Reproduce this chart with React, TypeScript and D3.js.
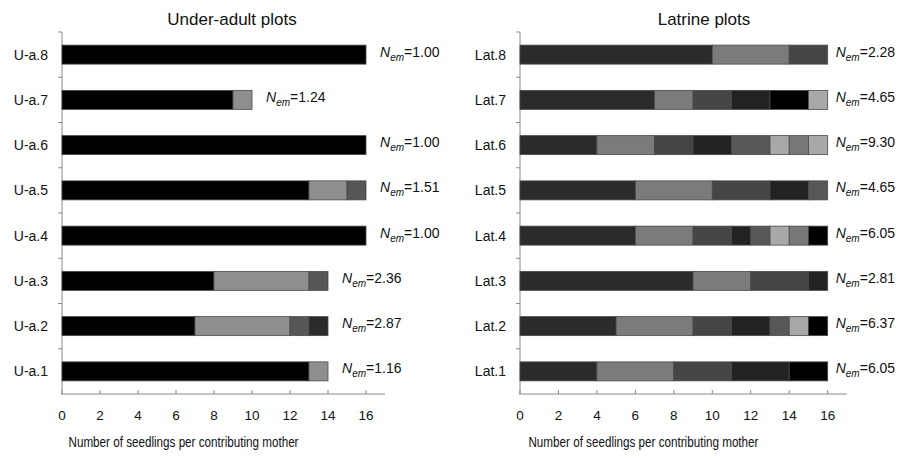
import React from 'react';
import * as d3 from 'd3';

// seedlings per mother, stacked left to right; shade = mother id for the grey level
const underAdultPlots = ['U-a.1', 'U-a.2', 'U-a.3', 'U-a.4', 'U-a.5', 'U-a.6', 'U-a.7', 'U-a.8'];
const underAdultCounts = [[13, 1], [7, 5, 1, 1], [8, 5, 1], [16], [13, 2, 1], [16], [9, 1], [16]];
const underAdultShades = [[0, 1], [0, 1, 2, 3], [0, 1, 2], [0], [0, 1, 2], [0], [0, 1], [0]];
const underAdultNem = ['1.16', '2.87', '2.36', '1.00', '1.51', '1.00', '1.24', '1.00'];

const latrinePlots = ['Lat.1', 'Lat.2', 'Lat.3', 'Lat.4', 'Lat.5', 'Lat.6', 'Lat.7', 'Lat.8'];
const latrineCounts = [
  [4, 4, 3, 3, 2],
  [5, 4, 2, 2, 1, 1, 1],
  [9, 3, 3, 1],
  [6, 3, 2, 1, 1, 1, 1, 1],
  [6, 4, 3, 2, 1],
  [4, 3, 2, 2, 2, 1, 1, 1],
  [7, 2, 2, 2, 2, 1],
  [10, 4, 2],
];
const latrineShades = [
  [0, 1, 2, 3, 7],
  [0, 1, 2, 3, 4, 5, 7],
  [0, 1, 2, 3],
  [0, 1, 2, 3, 4, 5, 6, 7],
  [0, 1, 2, 3, 4],
  [0, 1, 2, 3, 4, 5, 6, 5],
  [0, 1, 2, 3, 7, 5],
  [0, 1, 2],
];
const latrineNem = ['6.05', '6.37', '2.81', '6.05', '4.65', '9.30', '4.65', '2.28'];

const xTicks = [0, 2, 4, 6, 8, 10, 12, 14, 16];

const underAdultPalette = ['#000000', '#8e8e8e', '#565656', '#2a2a2a'];
const latrinePalette = ['#2b2b2b', '#7b7b7b', '#454545', '#222222', '#575757', '#a8a8a8', '#777777', '#000000'];

const FONT = '"Liberation Sans", Arial, Helvetica, sans-serif';

type PanelProps = {
  title: string;
  titleX: number;
  left: number;
  unit: number;
  plots: string[];
  counts: number[][];
  shades: number[][];
  nem: string[];
  palette: string[];
  labelGap: number;
};

function Panel({ title, titleX, left, unit, plots, counts, shades, nem, palette, labelGap }: PanelProps) {
  const x = d3.scaleLinear().domain([0, 17]).range([left, left + 17 * unit]);
  const y = d3.scaleBand<string>().domain([...plots].reverse()).range([32, 394]).paddingInner(0.58).paddingOuter(0.29);
  const band = y.step();
  const axisColor = '#8a8a8a';

  return (
    <g fontFamily={FONT}>
      <text x={titleX} y={25} textAnchor="middle" fontSize={17} fill="#111">{title}</text>

      {/* y axis */}
      <line x1={left} x2={left} y1={32} y2={394} stroke={axisColor} strokeWidth={1} />
      {d3.range(plots.length).map(i => (
        <line key={'yt' + i} x1={left - 4} x2={left} y1={32 + i * band} y2={32 + i * band} stroke={axisColor} />
      ))}

      {/* x axis */}
      <line x1={x(0) - 1} x2={x(17)} y1={394} y2={394} stroke={axisColor} strokeWidth={1} />
      {xTicks.map(t => (
        <g key={'xt' + t}>
          <line x1={x(t)} x2={x(t)} y1={390} y2={394} stroke={axisColor} />
          <text x={x(t)} y={420} textAnchor="middle" fontSize={13.5} fill="#111">{t}</text>
        </g>
      ))}
      <text x={x(8.5) - 40} y={447} textAnchor="middle" fontSize={14} fill="#111"
        textLength={230} lengthAdjust="spacingAndGlyphs">Number of seedlings per contributing mother</text>

      {plots.map((p, i) => {
        const y0 = y(p) as number;
        const cy = y0 + y.bandwidth() / 2;
        let acc = 0;
        const total = d3.sum(counts[i]);
        return (
          <g key={p}>
            <text x={left - 14} y={cy + 5} textAnchor="end" fontSize={14} fill="#111">{p}</text>
            {counts[i].map((c, j) => {
              const start = acc;
              acc += c;
              return (
                <rect key={j} x={x(start)} y={y0} width={x(start + c) - x(start)} height={y.bandwidth()}
                  fill={palette[shades[i][j]]} stroke="#4a4a4a" strokeWidth={0.8} />
              );
            })}
            <text x={x(total) + labelGap} y={cy + 2} fontSize={14} fill="#111">
              <tspan fontStyle="italic">N</tspan>
              <tspan fontStyle="italic" fontSize={10} dy={4}>em</tspan>
              <tspan dy={-4}>={nem[i]}</tspan>
            </text>
          </g>
        );
      })}
    </g>
  );
}

export default function App() {
  return (
    <svg width={899} height={458} style={{ position: 'absolute', left: 0, top: 0, background: '#fff' }}>
      <rect width={899} height={458} fill="#fff" />
      <Panel title="Under-adult plots" titleX={232} left={62} unit={19}
        plots={underAdultPlots} counts={underAdultCounts} shades={underAdultShades}
        nem={underAdultNem} palette={underAdultPalette} labelGap={14} />
      <Panel title="Latrine plots" titleX={704} left={520} unit={19.23}
        plots={latrinePlots} counts={latrineCounts} shades={latrineShades}
        nem={latrineNem} palette={latrinePalette} labelGap={8} />
    </svg>
  );
}
